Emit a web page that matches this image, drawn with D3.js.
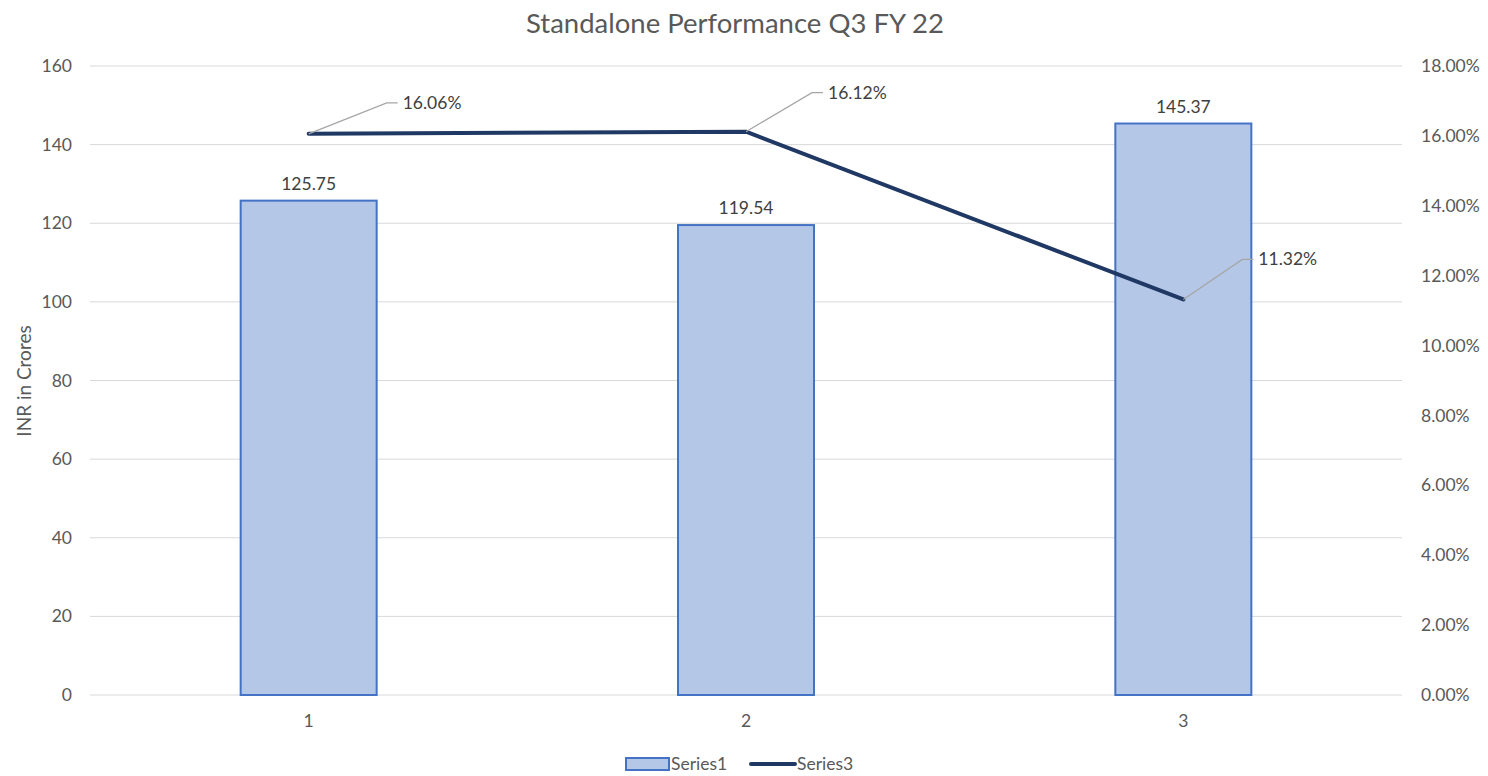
<!DOCTYPE html>
<html>
<head>
<meta charset="utf-8">
<script src="https://cdn.jsdelivr.net/npm/d3@7"></script>
<style>
  body { margin: 0; background: #fff; }
  text { font-family: Lato, "Open Sans", sans-serif; }
</style>
</head>
<body>
<svg id="chart" width="1488" height="776"></svg>
<script>
// chart data
var categories = ["1", "2", "3"];
var series1 = [125.75, 119.54, 145.37];
var series3 = [0.1606, 0.1612, 0.1132];
var leftTicks = [0, 20, 40, 60, 80, 100, 120, 140, 160];
var rightTicks = [0, 0.02, 0.04, 0.06, 0.08, 0.10, 0.12, 0.14, 0.16, 0.18];

var svg = d3.select("#chart");
var margin = {left: 90, right: 86, top: 66, bottom: 81};
var W = 1488, H = 776;
var fs = 17.5;

var x = d3.scaleBand().domain(categories)
    .range([margin.left, W - margin.right]).padding(0);
var yL = d3.scaleLinear().domain([0, 160]).range([H - margin.bottom, margin.top]);
var yR = d3.scaleLinear().domain([0, 0.18]).range([H - margin.bottom, margin.top]);

// title
svg.append("text")
    .attr("x", 735).attr("y", 33)
    .attr("text-anchor", "middle")
    .attr("font-size", 27.5)
    .attr("fill", "#595959")
    .text("Standalone Performance Q3 FY 22");

// gridlines
svg.append("g").selectAll("line")
    .data(leftTicks)
    .enter().append("line")
    .attr("x1", margin.left).attr("x2", W - margin.right)
    .attr("y1", function (d) { return yL(d); })
    .attr("y2", function (d) { return yL(d); })
    .attr("stroke", "#d9d9d9").attr("stroke-width", 1);

// left axis labels
var axL = svg.append("g")
    .attr("transform", "translate(" + margin.left + ",0)")
    .call(d3.axisLeft(yL).tickValues(leftTicks).tickSize(0).tickPadding(18));
axL.select(".domain").remove();
axL.selectAll("text").attr("font-size", fs).attr("fill", "#595959")
    .style("font-family", "Lato, sans-serif");

// right axis labels
var axR = svg.append("g")
    .attr("transform", "translate(" + (W - margin.right) + ",0)")
    .call(d3.axisRight(yR).tickValues(rightTicks).tickSize(0).tickPadding(19)
        .tickFormat(d3.format(".2%")));
axR.select(".domain").remove();
axR.selectAll("text").attr("font-size", fs).attr("fill", "#595959")
    .style("font-family", "Lato, sans-serif");

// x axis labels
var axX = svg.append("g")
    .attr("transform", "translate(0," + (H - margin.bottom) + ")")
    .call(d3.axisBottom(x).tickSize(0).tickPadding(20));
axX.select(".domain").remove();
axX.selectAll("text").attr("font-size", fs).attr("fill", "#595959")
    .style("font-family", "Lato, sans-serif");

// y axis title
svg.append("text")
    .attr("transform", "translate(31," + 381 + ") rotate(-90)")
    .attr("text-anchor", "middle")
    .attr("font-size", 19)
    .attr("fill", "#595959")
    .text("INR in Crores");

// bars
var barW = 136;
svg.append("g").selectAll("rect")
    .data(series1)
    .enter().append("rect")
    .attr("x", function (d, i) { return x(categories[i]) + x.bandwidth() / 2 - barW / 2; })
    .attr("y", function (d) { return yL(d); })
    .attr("width", barW)
    .attr("height", function (d) { return yL(0) - yL(d); })
    .attr("fill", "#b4c7e7")
    .attr("stroke", "#4472c4").attr("stroke-width", 2);

// bar labels
svg.append("g").selectAll("text")
    .data(series1)
    .enter().append("text")
    .attr("x", function (d, i) { return x(categories[i]) + x.bandwidth() / 2; })
    .attr("y", function (d) { return yL(d) - 11; })
    .attr("text-anchor", "middle")
    .attr("font-size", fs)
    .attr("fill", "#404040")
    .text(function (d) { return d3.format(".2f")(d); });

// line
var cx = function (d, i) { return x(categories[i]) + x.bandwidth() / 2; };
var line = d3.line()
    .x(function (d, i) { return cx(d, i); })
    .y(function (d) { return yR(d); });
svg.append("path")
    .datum(series3)
    .attr("d", line)
    .attr("fill", "none")
    .attr("stroke", "#203864")
    .attr("stroke-width", 4)
    .attr("stroke-linecap", "round")
    .attr("stroke-linejoin", "round");

// leader lines and labels for the line
var leader = [{dx: 78, dy: -31}, {dx: 66, dy: -39}, {dx: 59, dy: -40}];
var lab = svg.append("g");
series3.forEach(function (d, i) {
    var px = cx(d, i), py = yR(d);
    var ex = px + leader[i].dx, ey = py + leader[i].dy;
    lab.append("polyline")
        .attr("points", [px, py, ex, ey, ex + 11, ey].join(","))
        .attr("fill", "none")
        .attr("stroke", "#a6a6a6").attr("stroke-width", 1.3);
    lab.append("text")
        .attr("x", ex + 16).attr("y", ey + 6)
        .attr("font-size", fs)
        .attr("fill", "#404040")
        .text(d3.format(".2%")(d));
});

// legend
var lg = svg.append("g");
lg.append("rect")
    .attr("x", 626).attr("y", 758).attr("width", 43).attr("height", 12)
    .attr("fill", "#b4c7e7").attr("stroke", "#4472c4").attr("stroke-width", 2);
lg.append("text")
    .attr("x", 671).attr("y", 770).attr("font-size", fs).attr("fill", "#595959")
    .text("Series1");
lg.append("line")
    .attr("x1", 751).attr("x2", 795).attr("y1", 764).attr("y2", 764)
    .attr("stroke", "#203864").attr("stroke-width", 4).attr("stroke-linecap", "round");
lg.append("text")
    .attr("x", 797).attr("y", 770).attr("font-size", fs).attr("fill", "#595959")
    .text("Series3");
</script>
</body>
</html>
